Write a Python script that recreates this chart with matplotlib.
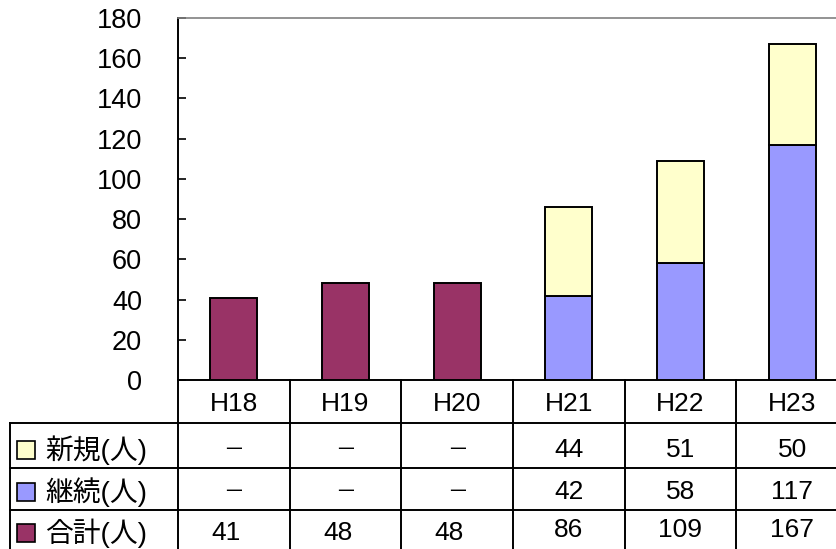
import matplotlib
matplotlib.use("Agg")
import matplotlib.pyplot as plt
import matplotlib.transforms as mtransforms
from matplotlib.lines import Line2D
from matplotlib.patches import Rectangle

plt.rcParams['font.family'] = ['Liberation Sans', 'Noto Sans CJK JP', 'DejaVu Sans']

years = ["H18", "H19", "H20", "H21", "H22", "H23"]
shinki = [None, None, None, 44, 51, 50]      # 新規(人)
keizoku = [None, None, None, 42, 58, 117]    # 継続(人)
goukei = [41, 48, 48, 86, 109, 167]          # 合計(人)

row_labels = ["新規(人)", "継続(人)", "合計(人)"]
c_shinki = "#FFFFCC"
c_keizoku = "#9999FF"
c_goukei = "#993366"

W, H = 837, 549
fig = plt.figure(figsize=(W / 100, H / 100), dpi=100)


def fy(p):
    return 1 - p / H


def fx(p):
    return p / W


# plot area: left edge at 178px, cut off by the right border of the picture
ax = fig.add_axes([fx(178), fy(380), fx(848) - fx(178), fy(18) - fy(380)])

x = list(range(len(years)))
bw = 0.42

# plain totals where there is no breakdown
tx = [i for i in x if keizoku[i] is None]
ax.bar(tx, [goukei[i] for i in tx], width=bw, color=c_goukei,
       edgecolor="black", linewidth=1.4, zorder=3)

# stacked 継続 + 新規
sx = [i for i in x if keizoku[i] is not None]
kv = [keizoku[i] for i in sx]
sv = [shinki[i] for i in sx]
ax.bar(sx, kv, width=bw, color=c_keizoku, edgecolor="black", linewidth=1.4, zorder=3)
ax.bar(sx, sv, width=bw, bottom=kv, color=c_shinki, edgecolor="black",
       linewidth=1.4, zorder=3)

ax.set_xlim(-0.5, len(years) - 0.5)
ax.set_ylim(0, 180)
ax.set_yticks(range(0, 181, 20))
ax.set_xticks([])
ax.tick_params(axis="y", direction="in", length=6, width=1.2, pad=26,
               labelsize=19.5)
ax.spines["left"].set_linewidth(1.4)
ax.spines["bottom"].set_linewidth(1.4)
ax.spines["top"].set_color("#808080")
ax.spines["top"].set_linewidth(1.2)
ax.spines["right"].set_visible(False)

# data table below the chart
tr = mtransforms.blended_transform_factory(ax.transData, fig.transFigure)
for i in range(len(years) + 1):
    fig.add_artist(Line2D([i - 0.5, i - 0.5], [fy(380), 0], transform=tr,
                          color="black", linewidth=1.4, clip_on=False))
for p in [423, 468, 510]:
    fig.add_artist(Line2D([fx(10), 1], [fy(p), fy(p)], color="black", linewidth=1.4))
fig.add_artist(Line2D([fx(10), fx(10)], [fy(423), 0], color="black", linewidth=1.4))

header_y = 404
row_y = [450, 492, 533]

for i, yr in enumerate(years):
    fig.text(i, fy(header_y), yr, transform=tr, ha="center", va="center", fontsize=19)

rows = [shinki, keizoku, goukei]
for r, vals in enumerate(rows):
    for i, v in enumerate(vals):
        xi = i
        yy = row_y[r]
        if v is None:
            fig.text(xi, fy(yy), "－", transform=tr, ha="center", va="center",
                     fontsize=15, family=["Noto Sans CJK JP"])
            continue
        if r == 2 and keizoku[i] is None:
            xi = i - 0.07
        elif r == 2:
            yy = row_y[r] - 3
        fig.text(xi, fy(yy), str(v), transform=tr, ha="center", va="center", fontsize=19)

colors = [c_shinki, c_keizoku, c_goukei]
for r, lab in enumerate(row_labels):
    fig.add_artist(Rectangle((fx(17), fy(row_y[r] + 9)), fx(18), (18 / H),
                             facecolor=colors[r], edgecolor="black", linewidth=1.2))
    fig.text(fx(45), fy(row_y[r]), lab, ha="left", va="center", fontsize=20)

fig.savefig("out.png", dpi=100)
